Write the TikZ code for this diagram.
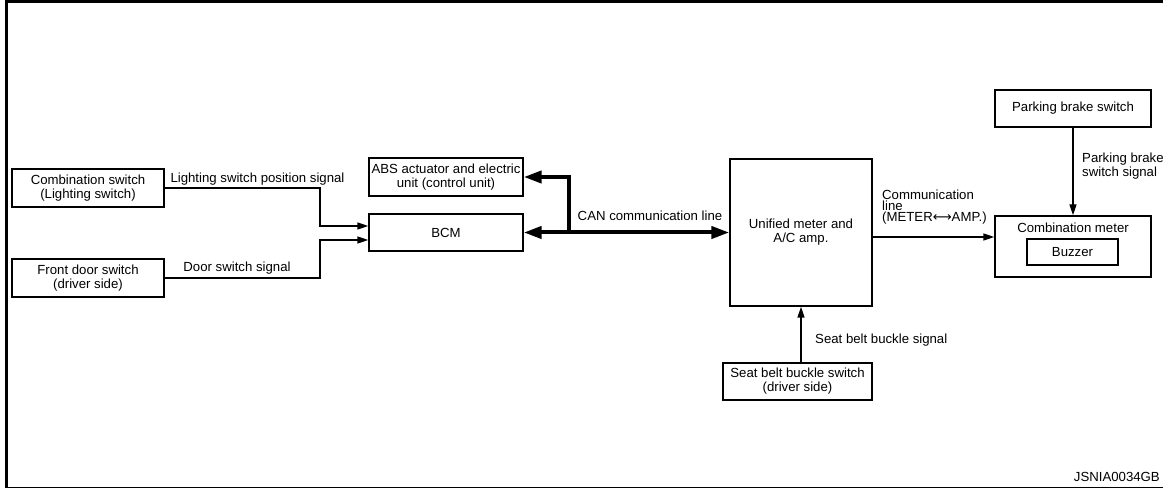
\documentclass[tikz,border=0pt]{standalone}
\usepackage{fontspec}
\setmainfont{Liberation Sans}
\newfontfamily\arrowfont{DejaVu Sans}
\usetikzlibrary{arrows.meta}
\begin{document}
\begin{tikzpicture}[x=1pt,y=-1pt,
  font=\fontsize{13.2}{14}\selectfont,
  box/.style={draw, line width=1.4pt, inner sep=0pt, align=center},
  sig/.style={line width=1.4pt, -{Triangle[length=11pt,width=7pt]}},
  canln/.style={line width=4pt},
  canhead/.style={-{Triangle[length=18pt,width=12pt]}},
  lbl/.style={inner sep=0pt, align=left}]
\useasboundingbox (0,0) rectangle (1163,489);
% frame
\draw[line width=3pt] (5,2) -- (1163,2);
\draw[line width=3pt] (6.5,0.5) -- (6.5,488);
\draw[line width=1.5pt] (5,487.5) -- (1163,487.5);

% boxes
\node[box, minimum width=152pt, minimum height=38pt] (comb) at (88,188) {Combination switch\\(Lighting switch)};
\node[box, minimum width=152pt, minimum height=38pt] (door) at (88,278) {Front door switch\\(driver side)};
\node[box, minimum width=154pt, minimum height=38pt] (abs) at (446,177) {ABS actuator and electric\\unit (control unit)};
\node[box, minimum width=154pt, minimum height=37pt] (bcm) at (446,232.5) {BCM};
\node[box, minimum width=142pt, minimum height=147pt] (uni) at (801,232.5) {Unified meter and\\A/C amp.};
\node[box, minimum width=149pt, minimum height=37pt] (seat) at (797.5,381.5) {Seat belt buckle switch\\(driver side)};
\node[box, minimum width=156pt, minimum height=37pt] (pk) at (1073,108.5) {Parking brake switch};
\node[box, minimum width=156pt, minimum height=61pt] (cm) at (1073,246.5) {};
\node[inner sep=0pt] (cmlabel) at (1073,228) {Combination meter};
\node[box, minimum width=91pt, minimum height=26pt] (buz) at (1072.5,252) {Buzzer};

% connectors
\coordinate (jx) at (320,0);
\draw[sig] (comb.east) -- (comb.east -| jx) |- ([yshift=6.5pt]bcm.west);
\draw[sig] (door.east) -- (door.east -| jx) |- ([yshift=-7.5pt]bcm.west);

\coordinate (br) at (569,232.5);
\draw[canln, canhead] (br) -- (uni.west |- br);
\draw[canln, canhead] (br) -- (bcm.east |- br);
\draw[canln, canhead] (br) |- (abs.east);

\coordinate (c1) at ([yshift=-4.5pt]uni.east);
\draw[sig] (c1) -- (c1 -| cm.west);
\draw[sig] (pk.south) -- (cm.north);
\draw[sig] (uni.south |- seat.north) -- (uni.south);

% labels
\node[lbl] (l1) at (257.5,179) {Lighting switch position signal};
\node[lbl] (l2) at (237,268) {Door switch signal};
\node[lbl] (l3) at (650,216) {CAN communication line};
\node[lbl, anchor=west, font=\fontsize{13.2}{11}\selectfont] (l4) at (882,207) {Communication\\line\\(METER{\arrowfont ⟷}AMP.)};
\node[lbl, anchor=west] (l5) at (1082,166.5) {Parking brake\\switch signal};
\node[lbl, anchor=west] (l6) at (815,340) {Seat belt buckle signal};
\node[lbl, anchor=east] (code) at (1160,477) {JSNIA0034GB};
\end{tikzpicture}
\end{document}
